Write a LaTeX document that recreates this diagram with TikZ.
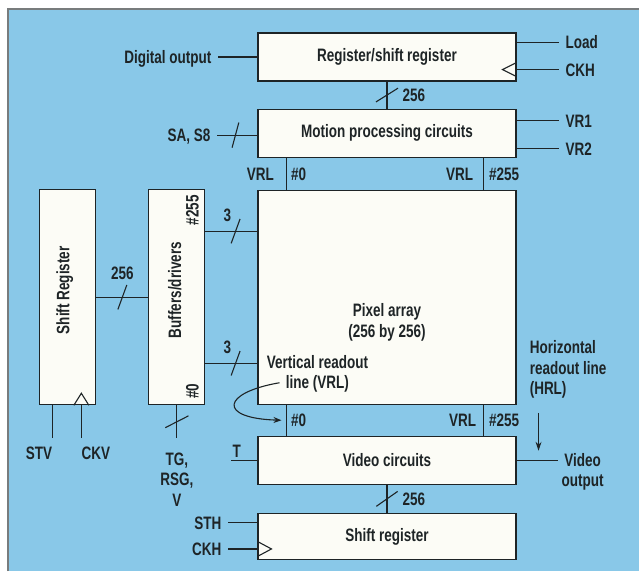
\documentclass[tikz,border=0pt]{standalone}
\usepackage{fontspec}
\setmainfont{Liberation Sans}[FakeStretch=0.75]
\usetikzlibrary{positioning, arrows.meta}

\definecolor{panelblue}{RGB}{137,200,232}
\definecolor{boxfill}{RGB}{252,252,246}
\definecolor{ink}{RGB}{30,36,38}

\begin{document}
\begin{tikzpicture}[
    x=1pt, y=-1pt,
    font=\fontsize{18}{20.5}\selectfont\bfseries,
    text=ink,
    block/.style={rectangle, draw=ink, fill=boxfill, line width=1.1pt, minimum width=258pt, minimum height=48pt, inner sep=0pt},
    tallblock/.style={block, minimum width=56pt, minimum height=215pt},
    wire/.style={draw=ink, line width=1.1pt},
    arrow/.style={wire, -{Stealth[length=9pt, width=6pt]}},
    slash/.style={draw=ink, line width=1.1pt, inner sep=0pt, minimum width=0pt, minimum height=26pt, rotate=#1},
    tag/.style={inner sep=0pt, outer sep=7pt, text height=13pt, text depth=0pt},
    pinlabel/.style={inner sep=0pt, text height=13pt, text depth=0pt}
]
    % Panel
    \useasboundingbox (0,0) rectangle (639,578);
    \fill[white] (0,0) rectangle (639,578);
    \fill[panelblue] (8,9) rectangle (639,571);
    \draw[ink!60, line width=1.2pt] (8,571) -- (8,9) -- (639,9);

    % Column of circuits
    \node (reg) [block] at (387,57) {Register/shift register};
    \node (motion) [block, below=27pt of reg] {Motion processing circuits};
    \node (pixel) [block, below=32pt of motion, minimum height=214pt] {};
    \node (pixel_lbl) [align=center, inner sep=0pt] at ([yshift=-25pt]pixel.center) {Pixel array\\(256 by 256)};
    \node (video) [block, below=31pt of pixel] {Video circuits};
    \node (hreg) [block, below=28pt of video, minimum height=46pt] {Shift register};

    % Vertical scanning side
    \node (buf) [tallblock, left=52pt of pixel] {};
    \node (vreg) [tallblock, left=52pt of buf] {};
    \node (vreg_lbl) [rotate=90, inner sep=0pt] at ([xshift=-3pt, yshift=7pt]vreg.center) {Shift Register};
    \node (buf_lbl) [rotate=90, inner sep=0pt] at ([xshift=-2pt, yshift=7pt]buf.center) {Buffers/drivers};
    \node (buf_hi_lbl) [rotate=90, inner sep=0pt] at ([xshift=-13pt, yshift=-21pt]buf.north east) {\#255};
    \node (buf_lo_lbl) [rotate=90, inner sep=0pt] at ([xshift=-13pt, yshift=14pt]buf.south east) {\#0};

    % Register/shift register signals
    \node (dout) [tag, left=39pt of reg] {Digital output};
    \node (load) [tag, anchor=west] at ([xshift=42pt, yshift=-10pt]reg.north east) {Load};
    \node (ckh_top) [tag, anchor=west] at ([xshift=42pt, yshift=12pt]reg.south east) {CKH};
    \draw[wire] (dout.east) -- (dout.east -| reg.west);
    \draw[wire] (load.west) -- (load.west -| reg.east);
    \draw[wire] (ckh_top.west) -- (ckh_top.west -| reg.east);
    \draw[wire] (ckh_top.west -| reg.east) ++(0,-7) -- ++(-14,7) -- ++(14,7);
    \draw[wire] (reg.south) -- node[slash=-58] {} node[pinlabel, right=15pt] {256} (motion.north);

    % Motion processing signals
    \node (sasb) [tag, anchor=east] at ([xshift=-40pt, yshift=-2pt]motion.west) {SA, S8};
    \node (vr1) [tag, anchor=west] at ([xshift=42pt, yshift=-12pt]motion.north east) {VR1};
    \node (vr2) [tag, anchor=west] at ([xshift=42pt, yshift=9pt]motion.south east) {VR2};
    \draw[wire] (sasb.east) -- node[pos=0.45, slash=-15] {} (sasb.east -| motion.west);
    \draw[wire] (vr1.west) -- (vr1.west -| motion.east);
    \draw[wire] (vr2.west) -- (vr2.west -| motion.east);

    % Vertical readout lines
    \draw[wire] ([xshift=29pt]motion.south west) -- node[pinlabel, left=12pt] {VRL} node[pinlabel, right=4pt] {\#0} ([xshift=29pt]pixel.north west);
    \draw[wire] ([xshift=-33pt]motion.south east) -- node[pinlabel, left=10pt] {VRL} node[pinlabel, right=5pt] {\#255} ([xshift=-33pt]pixel.north east);
    \draw[wire] ([xshift=29pt]pixel.south west) -- coordinate (vrl0_mid) node[pinlabel, right=4pt] {\#0} ([xshift=29pt]video.north west);
    \draw[wire] ([xshift=-33pt]pixel.south east) -- node[pinlabel, left=7pt] {VRL} node[pinlabel, right=5pt] {\#255} ([xshift=-33pt]video.north east);
    \node (vrl_note) [align=center, inner sep=0pt] at ([xshift=60pt, yshift=31pt]pixel.south west) {Vertical readout\\line (VRL)};
    \coordinate (vrl_from) at ([xshift=22pt, yshift=22pt]pixel.south west);
    \draw[arrow, -{Stealth[length=8pt, width=6pt]}] (vrl_from) .. controls +(-58,10) and +(-64,-2) .. ([xshift=-5pt]vrl0_mid);

    % Vertical scanning connections
    \draw[wire] (vreg) -- node[slash=-20] {} node[pinlabel, above=17pt] {256} (buf);
    \coordinate (buf_hi) at ([yshift=-42pt]buf.north east);
    \coordinate (buf_lo) at ([yshift=42pt]buf.south east);
    \draw[wire] (buf_hi) -- node[pos=0.58, slash=-20] {} node[pos=0.42, pinlabel, above=9pt] {3} (buf_hi -| pixel.west);
    \draw[wire] (buf_lo) -- node[pos=0.58, slash=-20] {} node[pos=0.42, pinlabel, above=9pt] {3} (buf_lo -| pixel.west);
    \coordinate (stv_in) at ([xshift=13pt, yshift=-33pt]vreg.south west);
    \coordinate (ckv_in) at ([xshift=-15pt, yshift=-33pt]vreg.south east);
    \draw[wire] (stv_in |- vreg.south) -- (stv_in);
    \draw[wire] (ckv_in |- vreg.south) -- (ckv_in);
    \draw[wire] (ckv_in |- vreg.south) ++(-7.5,0) -- ++(7.5,-12) -- ++(7.5,12);
    \node (stv) [pinlabel, anchor=north east] at ([yshift=-8pt]stv_in) {STV};
    \node (ckv) [pinlabel, anchor=north west] at ([yshift=-8pt]ckv_in) {CKV};
    \coordinate (tg_in) at ([yshift=-33pt]buf.south);
    \draw[wire] (buf.south) -- node[slash=-63] {} (tg_in);
    \node (tg) [align=center, inner sep=0pt, anchor=north] at ([yshift=-14pt]tg_in) {TG,\\RSG,\\V};

    % Video circuits signals
    \coordinate (t_in) at ([xshift=-26pt]video.west);
    \draw[wire] (t_in) -- (video.west);
    \node (t_lbl) [pinlabel, anchor=south west] at ([xshift=1pt, yshift=3pt]t_in) {T};
    \node (vout) [align=center, inner sep=0pt, outer sep=4pt, anchor=north west] at ([xshift=41pt, yshift=11pt]video.east) {Video\\output};
    \draw[wire] (video.east) -- (video.east -| vout.west);
    \node (hrl) [align=left, inner sep=0pt, anchor=north west] at ([xshift=13pt, yshift=64pt]pixel.south east) {Horizontal\\readout line\\(HRL)};
    \coordinate (hrl_tip) at ([xshift=22pt, yshift=-15pt]video.north east);
    \draw[arrow] (hrl_tip |- hrl.south) ++(0,14) -- (hrl_tip);
    \draw[wire] (video.south) -- node[slash=-55] {} node[pinlabel, right=15pt] {256} (hreg.north);

    % Horizontal shift register signals
    \node (sth) [tag, anchor=east] at ([xshift=-29pt, yshift=-10pt]hreg.north west) {STH};
    \node (ckh_bot) [tag, anchor=east] at ([xshift=-29pt, yshift=11pt]hreg.south west) {CKH};
    \draw[wire] (sth.east) -- (sth.east -| hreg.west);
    \draw[wire] (ckh_bot.east) -- (ckh_bot.east -| hreg.west);
    \draw[wire] (ckh_bot.east -| hreg.west) ++(0,-7.5) -- ++(14,7.5) -- ++(-14,7.5);
\end{tikzpicture}
\end{document}
